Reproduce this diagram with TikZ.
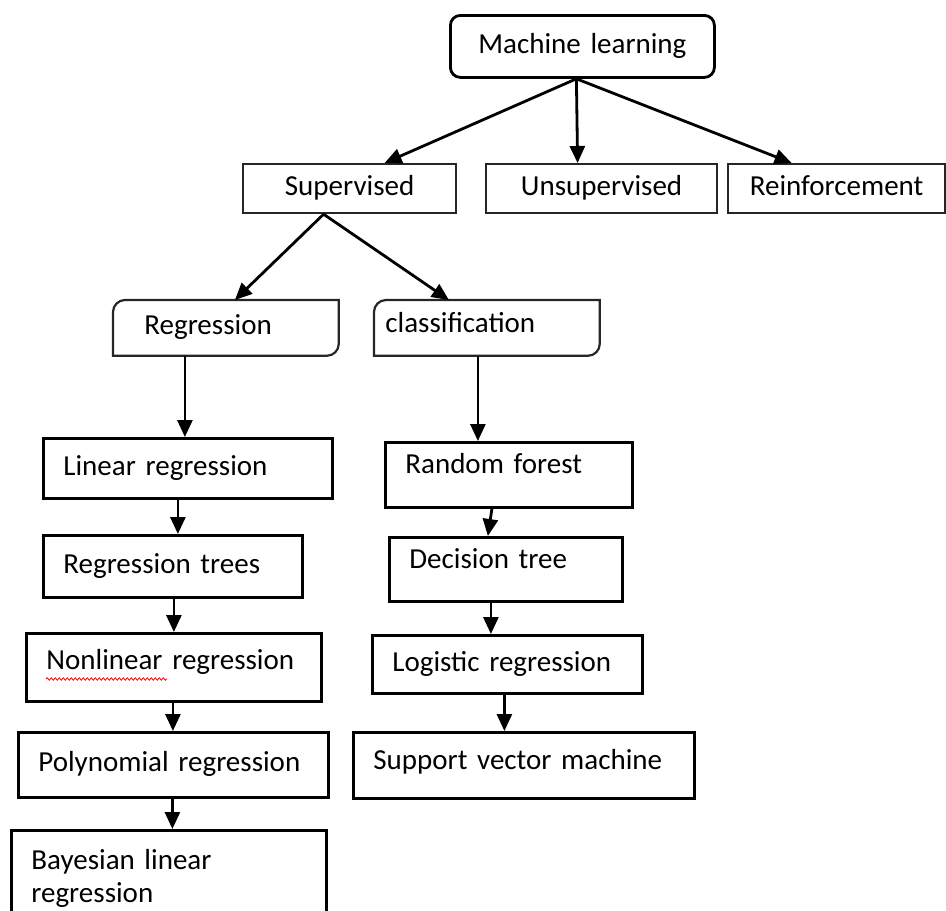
\documentclass[tikz,border=0pt]{standalone}
\usepackage{fontspec}
\setmainfont{Carlito}
\usetikzlibrary{arrows.meta,decorations.pathmorphing}

\begin{document}
\begin{tikzpicture}[x=1pt,y=-1pt,
                    frame/.style={draw=black,line width=2.8pt,anchor=north west,inner xsep=20pt,align=left,
                                  font=\fontsize{29}{33}\selectfont},
                    box/.style={frame,text height=21pt,text depth=7pt},
                    midbox/.style={box,draw=black!85,line width=2.2pt,align=center,inner xsep=0pt},
                    arr/.style={-{Triangle[length=17pt,width=15pt]},line width=2.8pt}]
    \useasboundingbox (0,0) rectangle (946,911);
    \clip (0,0) rectangle (946,911);
    % top level
    \node (ml) at (449,14) [box,rounded corners=10pt,align=center,inner xsep=0pt,text width=264pt,minimum height=62pt] {Machine learning};
    \node (sup) at (242,163) [midbox,text width=213pt,minimum height=49pt] {Supervised};
    \node (unsup) at (485,163) [midbox,text width=231pt,minimum height=49pt] {Unsupervised};
    \node (reinf) at (727,163) [midbox,text width=217pt,minimum height=49pt] {Reinforcement};
    % regression / classification, round diagonal corners
    \node (reg) at (113,300) [box,draw=none,inner xsep=30pt,text width=163pt,minimum height=53pt] {Regression};
    \node (cls) at (374,300) [box,draw=none,inner xsep=10pt,text width=203pt,minimum height=53pt,text depth=11pt] {classification};
    \foreach \n in {reg,cls}
        \draw [line width=2.2pt,black!85] ([xshift=12pt]\n.north west) -- (\n.north east) -- ([yshift=12pt]\n.south east)
              arc [start angle=0,end angle=-90,radius=12pt] -- (\n.south west) -- ([yshift=-12pt]\n.north west)
              arc [start angle=180,end angle=90,radius=12pt] -- cycle;
    % regression branch
    \node (lin) at (42,437) [box,text width=249pt,minimum height=60pt] {Linear regression};
    \node (rt) at (42,534) [box,text width=219pt,minimum height=62pt] {Regression trees};
    \node (nl) at (25,632) [box,text width=255pt,minimum height=68pt,text depth=17pt] {Nonlinear regression};
    \node (pr) at (17,731) [box,text width=270pt,minimum height=65pt] {Polynomial regression};
    \node (bl) at (10,829) [frame,text width=275pt,minimum height=96pt] {Bayesian linear\\regression};
    % classification branch
    \node (rf) at (384,441) [box,text width=207pt,minimum height=65pt,text depth=23pt] {Random forest};
    \node (dt) at (388,536) [box,text width=193pt,minimum height=64pt,text depth=23pt] {Decision tree};
    \node (lr) at (371,634) [box,text width=230pt,minimum height=58pt] {Logistic regression};
    \node (svm) at (352,731) [box,text width=301pt,minimum height=66pt,text depth=13pt] {Support vector machine};
    % spell check mark
    \draw [red,line width=0.8pt,decorate,decoration={snake,amplitude=1.2pt,segment length=4pt}] (46,679) -- (167,679);
    % connectors
    \coordinate (mlfoot) at ([xshift=-6pt]ml.south);
    \draw [arr] (mlfoot) -- ([xshift=35pt]sup.north);
    \draw [arr] (mlfoot) -- ([xshift=-24pt]unsup.north);
    \draw [arr] (mlfoot) -- ([xshift=-45pt]reinf.north);
    \coordinate (supfoot) at ([xshift=-26pt]sup.south);
    \draw [arr] (supfoot) -- ([xshift=9pt]reg.north);
    \draw [arr] (supfoot) -- ([xshift=-38pt]cls.north);
    \draw [arr] ([xshift=-41pt]reg.south) -- ([xshift=-41pt]reg.south |- lin.north);
    \draw [arr] ([xshift=-10pt]lin.south) -- ([xshift=-10pt]lin.south |- rt.north);
    \draw [arr] ([xshift=1pt]rt.south) -- ([xshift=1pt]rt.south |- nl.north);
    \draw [arr] ([xshift=-1pt]nl.south) -- ([xshift=-1pt]nl.south |- pr.north);
    \draw [arr] ([xshift=-1pt]pr.south) -- ([xshift=-1pt]pr.south |- bl.north);
    \draw [arr] ([xshift=-9pt]cls.south) -- ([xshift=-9pt]cls.south |- rf.north);
    \draw [arr] ([xshift=-17pt]rf.south) -- ([xshift=-18pt]dt.north);
    \draw [arr] ([xshift=-15pt]dt.south) -- ([xshift=-15pt]dt.south |- lr.north);
    \draw [arr] ([xshift=-3pt]lr.south) -- ([xshift=-3pt]lr.south |- svm.north);
\end{tikzpicture}
\end{document}
